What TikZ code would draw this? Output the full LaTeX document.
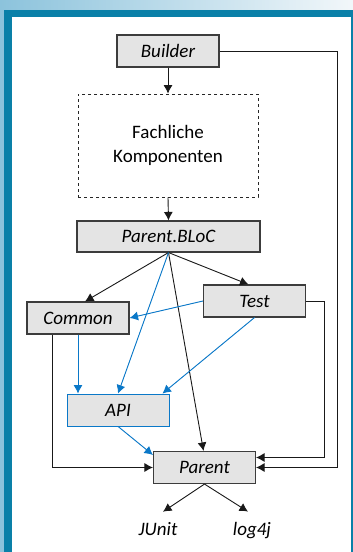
\documentclass[tikz,border=0pt]{standalone}
\usepackage{fontspec}
\setmainfont{Carlito}
\usetikzlibrary{arrows.meta}
\definecolor{boxgray}{HTML}{E4E4E4}
\definecolor{boxline}{HTML}{3C3C3C}
\definecolor{linkblue}{HTML}{0A78C8}
\definecolor{teal}{HTML}{0A80A8}
\definecolor{lightblue}{HTML}{8CC3DC}
\definecolor{paleblue}{HTML}{F2F7FA}
\tikzset{
  box/.style={draw=boxline, fill=boxgray, line width=1.1pt, minimum width=102pt,
    minimum height=32pt, inner sep=0pt, font=\fontsize{19}{23}\selectfont\itshape},
  bluebox/.style={box, draw=linkblue, line width=0.85pt},
  dep/.style={draw=black!90, line width=0.9pt, -{Latex[length=8.5pt,width=9pt]}},
  bdep/.style={dep, draw=linkblue, fill=linkblue},
  lbl/.style={inner sep=0pt, font=\fontsize{19}{23}\selectfont\itshape},
}
\begin{document}
\begin{tikzpicture}[x=1pt,y=-1pt]
\useasboundingbox (0,0) rectangle (353,552);
% background frame
\fill[white] (0,0) rectangle (353,552);
\shade[left color=lightblue, right color=paleblue] (0,0) rectangle (353,10);
\fill[lightblue] (0,10) rectangle (4,552);
\fill[teal] (4,10) rectangle (353,552);
\fill[white] (12,17) rectangle (351,552);

% nodes
\node[box] (builder) at (168,51) {Builder};
\node[draw=black!85, dashed, line width=0.8pt, minimum width=180pt, minimum height=103pt,
  align=center, font=\fontsize{19}{24}\selectfont] (fk) at (168,145.5) {Fachliche\\Komponenten};
\node[box, minimum width=183pt, minimum height=31pt] (bloc) at (168.5,236.5) {Parent.BLoC};
\node[box] (test) at (254.5,301) {Test};
\node[box] (common) at (78,318) {Common};
\node[bluebox] (api) at (118,410) {API};
\node[box] (parent) at (204.5,467.5) {Parent};
\node[lbl, anchor=base] (junit) at (158,535) {JUnit};
\node[lbl, anchor=base] (log4j) at (252,535) {log4j};

% connectors
\draw[dep] (builder.south) -- (fk.north);
\draw[dep] (fk.south) -- (bloc.north);
\draw[dep] (builder.east) -- (337,51) |- (parent.east);
\draw[dep] (bloc.south) -- ([xshift=7pt]common.north);
\draw[dep] (bloc.south) -- ([xshift=-6pt]test.north);
\draw[dep] (bloc.south) -- ([xshift=-1pt]parent.north);
\draw[bdep] (bloc.south) -- (api.north);
\draw[bdep] (test.west) -- (common.east);
\draw[bdep] (test.south) -- ([xshift=-7pt]api.north east);
\draw[dep] (test.east) -- (324,301) |- ([yshift=10pt]parent.east);
\draw[dep] ([xshift=-26pt]common.south) |- (parent.west);
\draw[bdep] (common.south) -- (common.south |- api.north);
\draw[bdep] (api.south) -- ([yshift=-4pt]parent.north west);
\draw[dep] (parent.south) -- ([xshift=5pt,yshift=10pt]junit.north);
\draw[dep] (parent.south) -- ([xshift=-4pt,yshift=10pt]log4j.north);
\end{tikzpicture}
\end{document}
